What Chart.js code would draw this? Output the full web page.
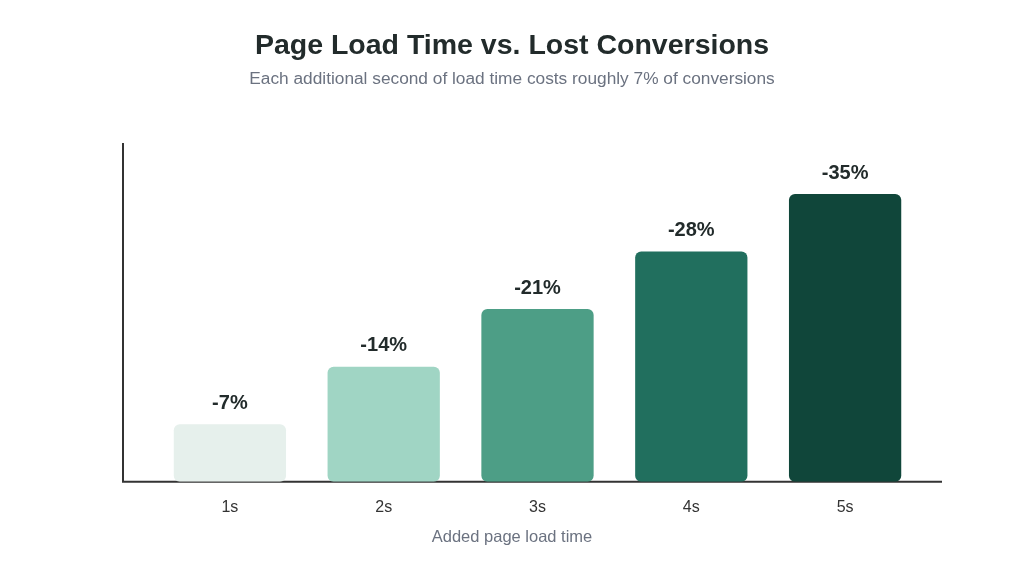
<!DOCTYPE html>
<html>
<head>
<meta charset="utf-8">
<script src="https://cdn.jsdelivr.net/npm/chart.js@4"></script>
<style>
  html, body { margin: 0; padding: 0; background: #fff; }
  #wrap { width: 1024px; height: 573px; }
</style>
</head>
<body>
<div id="wrap"><canvas id="chart"></canvas></div>
<script>
const categories = ['1s', '2s', '3s', '4s', '5s'];
const lostConversions = [7, 14, 21, 28, 35];
const barColors = ['#e6f0ec', '#a0d5c4', '#4d9e86', '#216f5e', '#10463a'];

const titleText = 'Page Load Time vs. Lost Conversions';
const subtitleText = 'Each additional second of load time costs roughly 7% of conversions';
const xTitleText = 'Added page load time';

const FONT = "'Liberation Sans', Arial, sans-serif";

// axis lines stick out past the category area, so draw them by hand
const axisLines = {
  id: 'axisLines',
  beforeDatasetsDraw(chart) {
    const { ctx, chartArea } = chart;
    const x0 = chartArea.left - 30;
    ctx.save();
    ctx.strokeStyle = '#333';
    ctx.lineWidth = 2;
    ctx.beginPath();
    ctx.moveTo(x0, chartArea.top);
    ctx.lineTo(x0, chartArea.bottom);
    ctx.lineTo(chartArea.right + 20, chartArea.bottom);
    ctx.stroke();
    ctx.restore();
  }
};

// titles are centred on the whole canvas, not on the (off-centre) plot area
const titles = {
  id: 'titles',
  afterDraw(chart) {
    const { ctx, width, chartArea } = chart;
    ctx.save();
    ctx.textAlign = 'center';
    ctx.textBaseline = 'middle';
    ctx.fillStyle = '#222b2b';
    ctx.font = 'bold 28.5px ' + FONT;
    ctx.fillText(titleText, width / 2, 46);
    ctx.fillStyle = '#6b7280';
    ctx.font = '17.3px ' + FONT;
    ctx.fillText(subtitleText, width / 2, 79);
    ctx.font = '16.5px ' + FONT;
    ctx.fillText(xTitleText, width / 2, chartArea.bottom + 56);
    ctx.restore();
  }
};

const barLabels = {
  id: 'barLabels',
  afterDatasetsDraw(chart) {
    const { ctx } = chart;
    const meta = chart.getDatasetMeta(0);
    ctx.save();
    ctx.font = 'bold 20px ' + FONT;
    ctx.fillStyle = '#222b2b';
    ctx.textAlign = 'center';
    ctx.textBaseline = 'middle';
    meta.data.forEach((bar, i) => {
      ctx.fillText('-' + lostConversions[i] + '%', bar.x, bar.y - 21);
    });
    ctx.restore();
  }
};

new Chart(document.getElementById('chart'), {
  type: 'bar',
  data: {
    labels: categories,
    datasets: [{
      data: lostConversions,
      backgroundColor: barColors,
      borderRadius: 6,
      borderSkipped: false,
      barPercentage: 0.73,
      categoryPercentage: 1
    }]
  },
  options: {
    responsive: true,
    maintainAspectRatio: false,
    animation: false,
    layout: { padding: { left: 153, right: 102, top: 143, bottom: 40 } },
    plugins: {
      legend: { display: false },
      tooltip: { enabled: false }
    },
    scales: {
      x: {
        grid: { display: false, drawTicks: false },
        border: { display: false },
        ticks: { color: '#333', padding: 16, font: { family: FONT, size: 16 } }
      },
      y: {
        display: false,
        min: 0,
        max: 41.2
      }
    }
  },
  plugins: [axisLines, barLabels, titles]
});
</script>
</body>
</html>
